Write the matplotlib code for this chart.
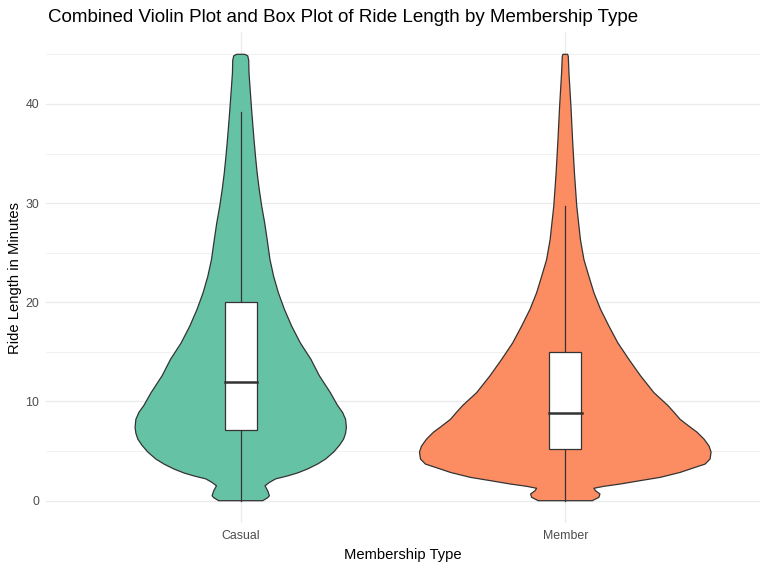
import matplotlib.pyplot as plt
import numpy as np

plt.rcParams["font.family"] = ["Liberation Sans", "DejaVu Sans"]

categories = ["Casual", "Member"]
colors = ["#66C2A5", "#FC8D62"]

# violin outline: ride length (minutes), half-width (pixels at 325 px per category)
casual_y = [0.0, 0.3, 0.5, 1.0, 1.5, 1.84, 2.2, 2.5, 2.8, 3.2, 3.7, 4.2, 4.9, 5.6,
            6.2, 6.8, 7.4, 8.2, 8.9, 9.6, 10.9, 12.6, 14.25, 15.9, 17.6, 19.3,
            20.96, 22.6, 24.3, 26.3, 28.0, 29.7, 31.4, 33.0, 34.7, 36.4, 38.0,
            39.7, 41.4, 43.1, 44.4, 44.85, 45.0]
casual_px = [22, 27, 28.7, 27, 24.3, 28.7, 35, 47, 57, 67, 77, 85, 93, 99,
             103, 105, 105.8, 105, 102, 97, 89.7, 78.7, 70.3, 59.7, 51, 43.7,
             37.7, 33, 29.3, 26.5, 24, 21, 18.5, 16.5, 14.8, 13.3, 12,
             10.7, 9.5, 8.3, 8, 7, 4]

member_y = [0.0, 0.34, 0.68, 1.0, 1.25, 1.45, 1.68, 2.02, 2.35, 2.85, 3.19, 3.69,
            4.2, 4.9, 5.5, 6.2, 6.9, 7.5, 8.2, 8.9, 9.6, 10.9, 12.6, 14.25,
            15.9, 17.6, 19.3, 20.96, 22.6, 24.3, 26.3, 29.7, 33.0, 36.4, 39.7,
            43.1, 44.8, 45.0]
member_px = [27, 33.7, 34.7, 30.3, 28.7, 38.7, 55, 75, 95, 115, 125, 140,
             145, 146, 144, 139, 132, 124, 115, 109, 102.7, 88.7, 75.3, 63.7,
             52.7, 43.7, 35.3, 28.7, 23.7, 18.7, 15.2, 11.5, 9.2, 7.3, 5.7,
             3.7, 3.0, 2.3]

# box stats: whisker low, q1, median, q3, whisker high
casual_box = [0.0, 7.1, 12.0, 20.0, 39.2]
member_box = [0.0, 5.2, 8.8, 15.0, 29.7]

edge = "#333333"
px_per_cat = 325.0

fig = plt.figure(figsize=(7.67, 5.69), dpi=100)
ax = fig.add_axes([46 / 767, 1 - 523 / 569, (760 - 46) / 767, (523 - 32) / 569])

profiles = [(casual_y, casual_px), (member_y, member_px)]
boxes = [casual_box, member_box]
for i, ((ys, ps), box, col) in enumerate(zip(profiles, boxes, colors)):
    pos = i + 1
    ys = np.array(ys)
    ws = np.array(ps) / px_per_cat
    xs = np.concatenate([pos - ws, (pos + ws)[::-1]])
    yy = np.concatenate([ys, ys[::-1]])
    ax.fill(xs, yy, facecolor=col, edgecolor=edge, lw=0.9, joinstyle="round", zorder=2)

    lo, q1, med, q3, hi = box
    ax.plot([pos, pos], [lo, q1], color=edge, lw=0.9, zorder=4)
    ax.plot([pos, pos], [q3, hi], color=edge, lw=0.9, zorder=4)
    ax.add_patch(plt.Rectangle((pos - 0.05, q1), 0.1, q3 - q1, facecolor="white",
                               edgecolor=edge, lw=0.9, zorder=4))
    ax.plot([pos - 0.05, pos + 0.05], [med, med], color=edge, lw=1.8, zorder=5)

ax.set_xlim(0.4, 2.6)
ax.set_ylim(-2.25, 47.25)
ax.set_xticks([1, 2])
ax.set_xticklabels(categories)
ax.set_yticks([0, 10, 20, 30, 40])
ax.set_yticks([5, 15, 25, 35, 45], minor=True)
ax.grid(True, which="major", color="#EBEBEB", lw=0.9, zorder=0)
ax.grid(True, which="minor", axis="y", color="#EBEBEB", lw=0.5, zorder=0)
ax.set_axisbelow(True)
for s in ax.spines.values():
    s.set_visible(False)
ax.tick_params(which="both", length=0, labelsize=8.9, labelcolor="#4D4D4D", pad=5)

ax.set_xlabel("Membership Type", fontsize=10.6, labelpad=4)
ax.set_ylabel("Ride Length in Minutes", fontsize=10.6, labelpad=2)
fig.text(48 / 767, 1 - 17 / 569, "Combined Violin Plot and Box Plot of Ride Length by Membership Type",
         fontsize=13.5, va="center", ha="left")

fig.savefig("out.png", dpi=100)
